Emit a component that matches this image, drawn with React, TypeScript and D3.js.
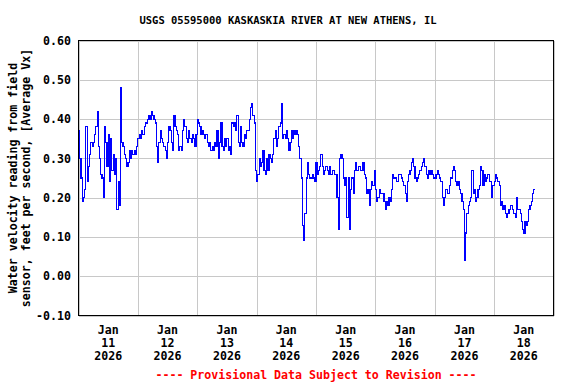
import React from 'react';
import * as d3 from 'd3';

// Half-hourly readings (ft/s), one array per day, starting Jan 11 2026 00:00
const jan11 = [0.37,0.30,0.25,0.19,0.20,0.22,0.38,0.24,0.28,0.31,0.34,0.33,0.34,0.36,0.38,0.42,0.33,0.30,0.26,0.25,0.20,0.38,0.34,0.28,0.36,0.24,0.35,0.27,0.31,0.26,0.30,0.17,0.24,0.18,0.48,0.34,0.33,0.31,0.30,0.28,0.29,0.32,0.30,0.32,0.31,0.32,0.31,0.33];
const jan12 = [0.35,0.36,0.35,0.37,0.36,0.38,0.39,0.39,0.40,0.41,0.40,0.42,0.41,0.40,0.39,0.33,0.29,0.34,0.37,0.35,0.34,0.33,0.32,0.30,0.34,0.38,0.37,0.34,0.32,0.41,0.38,0.37,0.36,0.32,0.33,0.32,0.37,0.40,0.38,0.35,0.34,0.37,0.35,0.34,0.36,0.35,0.33,0.36];
const jan13 = [0.40,0.39,0.38,0.36,0.37,0.36,0.35,0.36,0.34,0.33,0.34,0.32,0.33,0.32,0.34,0.33,0.37,0.30,0.34,0.39,0.33,0.32,0.35,0.33,0.35,0.32,0.33,0.31,0.39,0.38,0.39,0.37,0.41,0.34,0.33,0.38,0.34,0.33,0.36,0.35,0.37,0.37,0.40,0.43,0.44,0.41,0.39,0.27];
const jan14 = [0.24,0.26,0.30,0.28,0.29,0.32,0.27,0.26,0.30,0.27,0.31,0.30,0.29,0.31,0.35,0.37,0.33,0.35,0.38,0.39,0.44,0.35,0.36,0.35,0.37,0.35,0.32,0.34,0.37,0.35,0.37,0.36,0.37,0.36,0.33,0.30,0.25,0.13,0.09,0.16,0.25,0.29,0.26,0.25,0.25,0.26,0.25,0.24];
const jan15 = [0.29,0.26,0.27,0.28,0.31,0.28,0.26,0.27,0.28,0.27,0.26,0.28,0.26,0.27,0.27,0.26,0.26,0.20,0.12,0.30,0.31,0.30,0.25,0.23,0.25,0.15,0.25,0.12,0.22,0.25,0.21,0.27,0.29,0.27,0.28,0.28,0.27,0.27,0.29,0.26,0.25,0.21,0.22,0.18,0.22,0.24,0.23,0.27];
const jan16 = [0.22,0.19,0.20,0.22,0.21,0.21,0.21,0.19,0.17,0.19,0.18,0.20,0.19,0.22,0.26,0.25,0.25,0.24,0.24,0.26,0.26,0.25,0.24,0.23,0.21,0.19,0.24,0.26,0.27,0.29,0.30,0.28,0.25,0.24,0.25,0.26,0.27,0.28,0.29,0.30,0.28,0.26,0.25,0.27,0.26,0.27,0.26,0.25];
const jan17 = [0.25,0.26,0.27,0.26,0.25,0.24,0.20,0.18,0.20,0.22,0.21,0.21,0.23,0.25,0.27,0.28,0.27,0.24,0.23,0.24,0.22,0.21,0.19,0.17,0.04,0.11,0.16,0.18,0.19,0.20,0.27,0.21,0.22,0.19,0.20,0.22,0.23,0.28,0.27,0.23,0.26,0.24,0.25,0.26,0.24,0.24,0.20,0.23];
const jan18 = [0.24,0.26,0.25,0.24,0.23,0.18,0.19,0.17,0.18,0.16,0.15,0.16,0.17,0.18,0.18,0.17,0.16,0.15,0.20,0.17,0.17,0.16,0.14,0.12,0.11,0.14,0.13,0.14,0.17,0.18,0.19,0.21,0.22,0.22];

const series = [jan11, jan12, jan13, jan14, jan15, jan16, jan17, jan18].flat();
const startTime = Date.UTC(2026, 0, 11);
const endTime = Date.UTC(2026, 0, 19);
const stepMs = 30 * 60 * 1000;

const dayLabels = ['11', '12', '13', '14', '15', '16', '17', '18'];
const monthLabel = 'Jan';
const yearLabel = '2026';
const yTicks = [-0.1, 0, 0.1, 0.2, 0.3, 0.4, 0.5, 0.6];

const title = 'USGS 05595000 KASKASKIA RIVER AT NEW ATHENS, IL';
const yLabel1 = 'Water velocity reading from field';
const yLabel2 = 'sensor, feet per second, [Average Vx]';
const footer = '---- Provisional Data Subject to Revision ----';

const FONT = '"DejaVu Sans Mono", "Liberation Mono", monospace';

export default function App() {
  const W = 576, H = 384;
  const left = 78.5, right = 553.5, top = 40.5, bottom = 315.5;
  const x = d3.scaleUtc().domain([new Date(startTime), new Date(endTime)]).range([left, right]);
  const y = d3.scaleLinear().domain([-0.1, 0.6]).range([bottom, top]);
  const pts: [number, number][] = series.map((v, i) => [startTime + i * stepMs, v]);
  const line = d3.line<[number, number]>()
    .x(d => x(new Date(d[0])))
    .y(d => y(d[1]))
    .curve(d3.curveStepAfter);
  const dayBounds = d3.utcDay.range(new Date(startTime), new Date(endTime + 1));
  const midY = (top + bottom) / 2;

  return (
    <svg width={W} height={H} style={{ position: 'absolute', left: 0, top: 0, background: '#fff' }}
      fontFamily={FONT} fontWeight="bold">
      <rect x={0} y={0} width={W} height={H} fill="#fff" />
      <text x={288} y={24} textAnchor="middle" fontSize={10.5} fill="#000">{title}</text>
      {yTicks.map(t => (
        <line key={'h' + t} x1={left} x2={right} y1={Math.round(y(t)) + 0.5} y2={Math.round(y(t)) + 0.5}
          stroke="#c8c8c8" strokeWidth={1} shapeRendering="crispEdges" />
      ))}
      {dayBounds.map(d => (
        <line key={'v' + d.getTime()} x1={Math.round(x(d)) + 0.5} x2={Math.round(x(d)) + 0.5} y1={top} y2={bottom}
          stroke="#c8c8c8" strokeWidth={1} shapeRendering="crispEdges" />
      ))}
      <path d={line(pts) || ''} fill="none" stroke="#0000ff" strokeWidth={1.1} shapeRendering="crispEdges" />
      <rect x={left} y={top} width={right - left} height={bottom - top} fill="none" stroke="#000" strokeWidth={1}
        shapeRendering="crispEdges" />
      {yTicks.map(t => (
        <text key={'yl' + t} x={71} y={y(t)} dy="0.36em" textAnchor="end" fontSize={11.6} fill="#000">{t.toFixed(2)}</text>
      ))}
      {dayLabels.map((lab, i) => {
        const cx = x(new Date(startTime + (i + 0.5) * 86400000));
        return (
          <g key={'xl' + lab}>
            <text x={cx} y={334} textAnchor="middle" fontSize={11.6} fill="#000">{monthLabel}</text>
            <text x={cx} y={347} textAnchor="middle" fontSize={11.6} fill="#000">{lab}</text>
            <text x={cx} y={360} textAnchor="middle" fontSize={11.6} fill="#000">{yearLabel}</text>
          </g>
        );
      })}
      <text transform={`translate(17,${midY}) rotate(-90)`} textAnchor="middle" fontSize={11.6} fill="#000">{yLabel1}</text>
      <text transform={`translate(30,${midY}) rotate(-90)`} textAnchor="middle" fontSize={11.6} fill="#000">{yLabel2}</text>
      <text x={(left + right) / 2} y={379} textAnchor="middle" fontSize={11.6} fill="#ff0000">{footer}</text>
    </svg>
  );
}
